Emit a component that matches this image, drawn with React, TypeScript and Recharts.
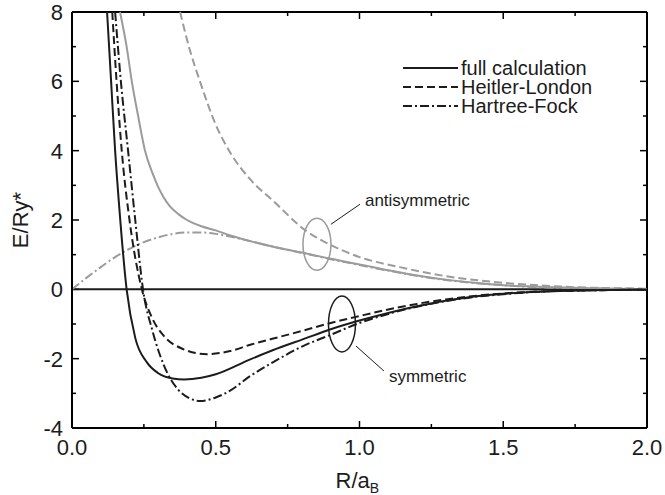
import { LineChart, Line, XAxis, YAxis, ReferenceLine, ReferenceDot, Customized } from "recharts";

const FONT = '"Liberation Sans", Arial, Helvetica, sans-serif';
const BLACK = "#1c1c1c";
const FRAME = "#000000";
const GRAY = "#9b9b9b";

const CHART_W = 665;
const CHART_H = 495;
const MARGIN = { top: 12, right: 18, bottom: 0, left: 0 };
const Y_AXIS_W = 72;
const X_AXIS_H = 67;

const xDomain = [0, 2];
const yDomain = [-4, 8];
const xTicks = [0, 0.25, 0.5, 0.75, 1, 1.25, 1.5, 1.75, 2];
const yTicks = [-4, -3, -2, -1, 0, 1, 2, 3, 4, 5, 6, 7, 8];

// symmetric state (black); curves start where they leave the top of the frame
const symFull = [
  { x: 0.122, y: 8 }, { x: 0.136, y: 6 }, { x: 0.15, y: 4 },
  { x: 0.165, y: 2.3 }, { x: 0.19, y: 0 }, { x: 0.22, y: -1.4 }, { x: 0.26, y: -2.1 },
  { x: 0.3, y: -2.42 }, { x: 0.35, y: -2.57 }, { x: 0.39, y: -2.6 }, { x: 0.45, y: -2.55 },
  { x: 0.5, y: -2.45 }, { x: 0.62, y: -2.02 }, { x: 0.7, y: -1.75 }, { x: 0.8, y: -1.45 },
  { x: 0.9, y: -1.15 }, { x: 1.0, y: -0.9 }, { x: 1.1, y: -0.68 }, { x: 1.2, y: -0.49 },
  { x: 1.3, y: -0.33 }, { x: 1.4, y: -0.21 }, { x: 1.5, y: -0.13 }, { x: 1.6, y: -0.08 },
  { x: 1.7, y: -0.05 }, { x: 1.8, y: -0.03 }, { x: 2.0, y: -0.01 },
];

const symHeitler = [
  { x: 0.14, y: 8 }, { x: 0.155, y: 6 }, { x: 0.173, y: 4 },
  { x: 0.2, y: 2 }, { x: 0.243, y: 0 }, { x: 0.28, y: -0.85 }, { x: 0.32, y: -1.35 },
  { x: 0.38, y: -1.7 }, { x: 0.47, y: -1.87 }, { x: 0.55, y: -1.78 }, { x: 0.62, y: -1.6 },
  { x: 0.7, y: -1.42 }, { x: 0.8, y: -1.2 }, { x: 0.9, y: -0.97 }, { x: 1.0, y: -0.77 },
  { x: 1.1, y: -0.58 }, { x: 1.2, y: -0.42 }, { x: 1.3, y: -0.29 }, { x: 1.4, y: -0.19 },
  { x: 1.5, y: -0.12 }, { x: 1.6, y: -0.07 }, { x: 1.8, y: -0.03 }, { x: 2.0, y: -0.01 },
];

const symHartree = [
  { x: 0.15, y: 8 }, { x: 0.17, y: 6 }, { x: 0.195, y: 4 },
  { x: 0.22, y: 2 }, { x: 0.247, y: 0 }, { x: 0.28, y: -1.2 }, { x: 0.32, y: -2.2 },
  { x: 0.37, y: -2.9 }, { x: 0.41, y: -3.15 }, { x: 0.445, y: -3.22 }, { x: 0.5, y: -3.12 },
  { x: 0.55, y: -2.92 }, { x: 0.62, y: -2.5 }, { x: 0.7, y: -2.1 }, { x: 0.8, y: -1.65 },
  { x: 0.9, y: -1.31 }, { x: 1.0, y: -0.97 }, { x: 1.1, y: -0.71 }, { x: 1.2, y: -0.5 },
  { x: 1.3, y: -0.34 }, { x: 1.4, y: -0.22 }, { x: 1.5, y: -0.14 }, { x: 1.6, y: -0.08 },
  { x: 1.8, y: -0.03 }, { x: 2.0, y: -0.01 },
];

// antisymmetric state (gray)
const antiFull = [
  { x: 0.167, y: 8 }, { x: 0.19, y: 7 }, { x: 0.208, y: 6 },
  { x: 0.23, y: 5 }, { x: 0.254, y: 4 }, { x: 0.28, y: 3.35 }, { x: 0.3, y: 2.95 },
  { x: 0.317, y: 2.68 }, { x: 0.34, y: 2.4 }, { x: 0.37, y: 2.17 }, { x: 0.4, y: 2.0 },
  { x: 0.45, y: 1.82 }, { x: 0.5, y: 1.7 }, { x: 0.56, y: 1.53 }, { x: 0.62, y: 1.39 },
  { x: 0.7, y: 1.23 }, { x: 0.8, y: 1.06 }, { x: 0.9, y: 0.88 }, { x: 1.0, y: 0.72 },
  { x: 1.1, y: 0.55 }, { x: 1.2, y: 0.4 }, { x: 1.3, y: 0.28 }, { x: 1.4, y: 0.19 },
  { x: 1.5, y: 0.12 }, { x: 1.6, y: 0.08 }, { x: 1.8, y: 0.03 }, { x: 2.0, y: 0.01 },
];

const antiHeitler = [
  { x: 0.376, y: 8 }, { x: 0.41, y: 6.9 }, { x: 0.445, y: 6 },
  { x: 0.5, y: 4.75 }, { x: 0.55, y: 3.95 }, { x: 0.62, y: 3.17 }, { x: 0.7, y: 2.55 },
  { x: 0.817, y: 1.67 }, { x: 0.9, y: 1.28 }, { x: 1.0, y: 0.93 }, { x: 1.14, y: 0.64 },
  { x: 1.3, y: 0.38 }, { x: 1.5, y: 0.19 }, { x: 1.7, y: 0.08 }, { x: 2.0, y: 0.02 },
];

const antiHartree = [
  { x: 0, y: 0 }, { x: 0.05, y: 0.33 }, { x: 0.1, y: 0.64 }, { x: 0.15, y: 0.93 },
  { x: 0.2, y: 1.17 }, { x: 0.25, y: 1.36 }, { x: 0.3, y: 1.5 }, { x: 0.35, y: 1.6 },
  { x: 0.4, y: 1.64 }, { x: 0.45, y: 1.64 }, { x: 0.5, y: 1.6 }, { x: 0.55, y: 1.52 },
  { x: 0.62, y: 1.39 }, { x: 0.7, y: 1.23 }, { x: 0.8, y: 1.05 }, { x: 0.9, y: 0.87 },
  { x: 1.0, y: 0.7 }, { x: 1.1, y: 0.54 }, { x: 1.2, y: 0.39 }, { x: 1.3, y: 0.27 },
  { x: 1.4, y: 0.18 }, { x: 1.5, y: 0.12 }, { x: 1.6, y: 0.07 }, { x: 1.8, y: 0.03 },
  { x: 2.0, y: 0.01 },
];

const DASHED = "8 4";
const DASHDOT = "9 3 2 3";

const legendItems = [
  { name: "full calculation", dash: undefined },
  { name: "Heitler-London", dash: DASHED },
  { name: "Hartree-Fock", dash: DASHDOT },
];

const isHalf = (v: number) => Math.abs(v * 2 - Math.round(v * 2)) < 1e-6;

function BottomLabel({ x, y, payload }: any) {
  if (!isHalf(payload.value)) return <g />;
  return (
    <text x={x} y={y + 27} textAnchor="middle" fontSize={22} fontFamily={FONT} fill={BLACK}>
      {payload.value.toFixed(1)}
    </text>
  );
}

function LeftLabel({ x, y, payload }: any) {
  if (payload.value % 2 !== 0) return <g />;
  return (
    <text x={x - 9} y={y + 8} textAnchor="end" fontSize={22} fontFamily={FONT} fill={BLACK}>
      {payload.value}
    </text>
  );
}

// boxed frame with inward ticks on all four sides
function FrameBox() {
  const left = MARGIN.left + Y_AXIS_W;
  const right = CHART_W - MARGIN.right;
  const top = MARGIN.top;
  const bottom = CHART_H - MARGIN.bottom - X_AXIS_H;
  const px = (v: number) => left + ((v - xDomain[0]) / (xDomain[1] - xDomain[0])) * (right - left);
  const py = (v: number) => bottom - ((v - yDomain[0]) / (yDomain[1] - yDomain[0])) * (bottom - top);
  return (
    <g>
      {xTicks.map((v) => {
        const len = isHalf(v) ? 7 : 4;
        return (
          <g key={`x${v}`}>
            <line x1={px(v)} y1={bottom} x2={px(v)} y2={bottom - len} stroke={FRAME} strokeWidth={1.5} />
            <line x1={px(v)} y1={top} x2={px(v)} y2={top + len} stroke={FRAME} strokeWidth={1.5} />
          </g>
        );
      })}
      {yTicks.map((v) => {
        const len = v % 2 === 0 ? 7 : 4;
        return (
          <g key={`y${v}`}>
            <line x1={left} y1={py(v)} x2={left + len} y2={py(v)} stroke={FRAME} strokeWidth={1.5} />
            <line x1={right} y1={py(v)} x2={right - len} y2={py(v)} stroke={FRAME} strokeWidth={1.5} />
          </g>
        );
      })}
      <line x1={left} y1={top} x2={right} y2={top} stroke={FRAME} strokeWidth={2} />
      <line x1={left} y1={bottom} x2={right} y2={bottom} stroke={FRAME} strokeWidth={2} />
      <line x1={left} y1={top} x2={left} y2={bottom} stroke={FRAME} strokeWidth={2} />
      <line x1={right} y1={top} x2={right} y2={bottom} stroke={FRAME} strokeWidth={2} />
    </g>
  );
}

function Annotation({ cx, cy, rx, ry, color, lx1, ly1, lx2, ly2, ty, label }: any) {
  return (
    <g>
      <ellipse cx={cx} cy={cy} rx={rx} ry={ry} fill="none" stroke={color} strokeWidth={1.5} />
      <line x1={cx + lx1} y1={cy + ly1} x2={cx + lx2} y2={cy + ly2} stroke={BLACK} strokeWidth={1} />
      <text x={cx + lx2 + 5} y={cy + ly2 + ty} fontSize={17} fontFamily={FONT} fill={BLACK} dominantBaseline="central">
        {label}
      </text>
    </g>
  );
}

function LegendBox() {
  return (
    <g>
      {legendItems.map((item, i) => {
        const cy = 68 + i * 19;
        return (
          <g key={item.name}>
            <line x1={403} y1={cy} x2={458} y2={cy} stroke={BLACK} strokeWidth={2} strokeDasharray={item.dash} />
            <text x={461} y={cy + 7} fontSize={20} fontFamily={FONT} fill={BLACK}>
              {item.name}
            </text>
          </g>
        );
      })}
    </g>
  );
}

export default function App() {
  return (
    <div style={{ position: "absolute", left: 0, top: 0, width: CHART_W, background: "#fff" }}>
      <LineChart width={CHART_W} height={CHART_H} margin={MARGIN}>
        <XAxis
          xAxisId="bottom"
          type="number"
          dataKey="x"
          domain={xDomain}
          ticks={xTicks}
          interval={0}
          height={X_AXIS_H}
          stroke={FRAME}
          tickSize={0}
          tickMargin={0}
          tickLine={false}
          axisLine={{ stroke: FRAME, strokeWidth: 2 }}
          tick={<BottomLabel />}
          label={(p: any) => {
            const vb = p.viewBox;
            const cx = vb.x + vb.width / 2;
            return (
              <text x={cx - 24} y={vb.y + 60} fontSize={22} fontFamily={FONT} fill={BLACK}>
                R/a
                <tspan fontSize={14} dy={5}>B</tspan>
              </text>
            );
          }}
        />
        <YAxis
          yAxisId="left"
          type="number"
          domain={yDomain}
          ticks={yTicks}
          interval={0}
          width={Y_AXIS_W}
          stroke={FRAME}
          tickSize={0}
          tickMargin={0}
          tickLine={false}
          axisLine={{ stroke: FRAME, strokeWidth: 2 }}
          tick={<LeftLabel />}
          label={(p: any) => {
            const vb = p.viewBox;
            const cy = vb.y + vb.height / 2;
            return (
              <text
                x={20}
                y={cy}
                transform={`rotate(-90, 20, ${cy})`}
                textAnchor="middle"
                dominantBaseline="central"
                fontSize={22}
                fontFamily={FONT}
                fill={BLACK}
              >
                E/Ry*
              </text>
            );
          }}
        />

        <ReferenceLine xAxisId="bottom" yAxisId="left" y={0} stroke={BLACK} strokeWidth={2} />
        <ReferenceLine xAxisId="bottom" yAxisId="left" x={2} stroke={FRAME} strokeWidth={2} />
        <ReferenceLine xAxisId="bottom" yAxisId="left" y={8} stroke={FRAME} strokeWidth={2} />

        <Line xAxisId="bottom" yAxisId="left" data={antiHeitler} dataKey="y" type="monotone" stroke={GRAY} strokeWidth={2} strokeDasharray={DASHED} dot={false} isAnimationActive={false} />
        <Line xAxisId="bottom" yAxisId="left" data={antiHartree} dataKey="y" type="monotone" stroke={GRAY} strokeWidth={2} strokeDasharray={DASHDOT} dot={false} isAnimationActive={false} />
        <Line xAxisId="bottom" yAxisId="left" data={antiFull} dataKey="y" type="monotone" stroke={GRAY} strokeWidth={2} dot={false} isAnimationActive={false} />
        <Line xAxisId="bottom" yAxisId="left" data={symHeitler} dataKey="y" type="monotone" stroke={BLACK} strokeWidth={2} strokeDasharray={DASHED} dot={false} isAnimationActive={false} />
        <Line xAxisId="bottom" yAxisId="left" data={symHartree} dataKey="y" type="monotone" stroke={BLACK} strokeWidth={2} strokeDasharray={DASHDOT} dot={false} isAnimationActive={false} />
        <Line xAxisId="bottom" yAxisId="left" data={symFull} dataKey="y" type="monotone" stroke={BLACK} strokeWidth={2} dot={false} isAnimationActive={false} />

        <ReferenceDot
          xAxisId="bottom"
          yAxisId="left"
          x={0.852}
          y={1.3}
          shape={(p: any) => (
            <Annotation cx={p.cx} cy={p.cy} rx={14} ry={26} color={GRAY} lx1={14} ly1={-20} lx2={43} ly2={-40} ty={-4} label="antisymmetric" />
          )}
        />
        <ReferenceDot
          xAxisId="bottom"
          yAxisId="left"
          x={0.939}
          y={-1.0}
          shape={(p: any) => (
            <Annotation cx={p.cx} cy={p.cy} rx={13.5} ry={28} color={BLACK} lx1={14} ly1={22} lx2={42} ly2={47} ty={5} label="symmetric" />
          )}
        />

        <Customized component={<LegendBox />} />
        <Customized component={<FrameBox />} />
      </LineChart>
    </div>
  );
}
